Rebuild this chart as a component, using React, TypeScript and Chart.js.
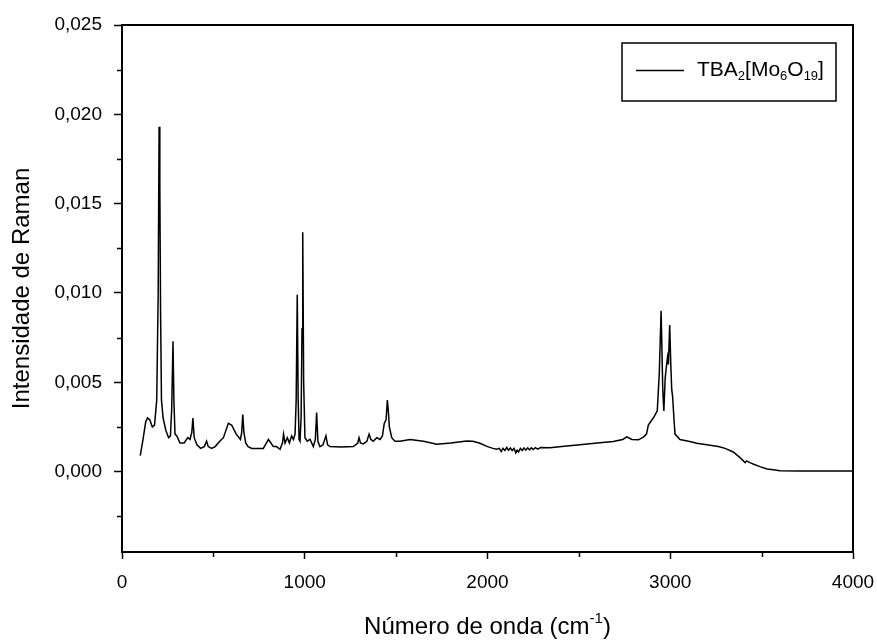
import React, { useEffect, useRef } from "react";
import { Chart, registerables } from "chart.js";

Chart.register(...registerables);

const wavenumbers = [
  100, 115, 130, 140, 152, 166, 178, 190, 198, 203, 207, 211, 216, 225, 240, 255, 265, 272, 279, 284,
  290, 300, 317, 340, 360, 372, 382, 388, 395, 410, 430, 450, 463, 472, 490, 510, 535, 555, 582, 600,
  625, 648, 655, 661, 667, 677, 690, 710, 773, 790, 801, 815, 828, 845, 865, 878, 884, 892, 905, 916,
  928, 938, 947, 953, 959, 964, 969, 974, 980, 985, 989, 994, 1001, 1014, 1029, 1047, 1058, 1065, 1072, 1083,
  1100, 1116, 1125, 1138, 1200, 1266, 1290, 1297, 1305, 1320, 1340, 1352, 1362, 1375, 1394, 1412, 1425, 1435, 1445, 1452,
  1458, 1463, 1476, 1494, 1521, 1576, 1650, 1722, 1800, 1886, 1920, 1959, 2000, 2030, 2050, 2065, 2075, 2085, 2095, 2105,
  2115, 2125, 2135, 2145, 2155, 2162, 2170, 2180, 2190, 2200, 2210, 2220, 2230, 2240, 2250, 2262, 2275, 2290, 2342, 2420,
  2506, 2600, 2688, 2740, 2762, 2790, 2826, 2853, 2870, 2880, 2907, 2929, 2940, 2950, 2959, 2965, 2972, 2977, 2985, 2990,
  2997, 3003, 3008, 3013, 3020, 3026, 3053, 3100, 3145, 3200, 3263, 3300, 3345, 3380, 3400, 3410, 3418, 3427, 3436, 3460,
  3491, 3530, 3564, 3600, 3700, 3800, 3900, 4000,
];

const intensities = [
  0.0009, 0.0018, 0.0028, 0.003, 0.0029, 0.0025, 0.0026, 0.004, 0.01, 0.0193, 0.016, 0.009, 0.004, 0.003, 0.0023, 0.0019, 0.002, 0.0035, 0.0073, 0.004,
  0.0021, 0.002, 0.0016, 0.0016, 0.0019, 0.0018, 0.0022, 0.003, 0.0019, 0.0015, 0.0013, 0.0014, 0.0017, 0.0014, 0.0013, 0.0014, 0.0017, 0.0019, 0.0027, 0.0026,
  0.0021, 0.0018, 0.0022, 0.0032, 0.0022, 0.0016, 0.0014, 0.0013, 0.0013, 0.0016, 0.0018, 0.0016, 0.0014, 0.0014, 0.00125, 0.0016, 0.0021, 0.0016, 0.0019, 0.0016,
  0.002, 0.0018, 0.0021, 0.004, 0.0099, 0.004, 0.0018, 0.0017, 0.003, 0.008, 0.0134, 0.005, 0.0019, 0.0017, 0.0018, 0.0014, 0.0018, 0.0033, 0.0017, 0.0014,
  0.0015, 0.002, 0.0015, 0.0014, 0.00138, 0.0014, 0.0016, 0.0019, 0.0016, 0.00155, 0.0017, 0.0021, 0.0018, 0.0017, 0.0019, 0.0018, 0.002, 0.0027, 0.0029, 0.004,
  0.0033, 0.0025, 0.0019, 0.0017, 0.0017, 0.0018, 0.0017, 0.00153, 0.0016, 0.00172, 0.0017, 0.00159, 0.0014, 0.0013, 0.00125, 0.0013, 0.00112, 0.0013, 0.00118, 0.00135,
  0.0012, 0.00132, 0.00118, 0.0013, 0.00105, 0.0012, 0.0011, 0.0013, 0.00118, 0.00132, 0.0012, 0.00133, 0.00122, 0.00133, 0.00124, 0.00134, 0.00126, 0.00135, 0.00134, 0.00142,
  0.0015, 0.0016, 0.00168, 0.0018, 0.00195, 0.0018, 0.00178, 0.00193, 0.0021, 0.0026, 0.003, 0.0034, 0.0055, 0.009, 0.0046, 0.0034, 0.0052, 0.0057, 0.0064, 0.006,
  0.0082, 0.006, 0.0046, 0.0042, 0.003, 0.0021, 0.0018, 0.0017, 0.00159, 0.0015, 0.0014, 0.0013, 0.0011, 0.0008, 0.0006, 0.0005, 0.0006, 0.00055, 0.0005, 0.0004,
  0.00028, 0.00015, 0.0001, 0.00005, 0.00004, 0.00004, 0.00004, 0.00004,
];

const seriesLabel = "TBA2[Mo6O19]";
const xMajorTicks = [0, 1000, 2000, 3000, 4000];
const xMinorTicks = [500, 1500, 2500, 3500];
const yMajorTicks = [0, 0.005, 0.01, 0.015, 0.02, 0.025];
const yMinorTicks = [-0.0025, 0.0025, 0.0075, 0.0125, 0.0175, 0.0225];
const xRange = [0, 4000];
const yRange = [-0.0045, 0.025];

const FONT = "'Liberation Sans', Arial, sans-serif";

const decorPlugin = {
  id: "decor",
  afterDraw(chart: any) {
    const ctx = chart.ctx;
    const { left, right, top, bottom } = chart.chartArea;
    const xs = chart.scales.x;
    const ys = chart.scales.y;
    ctx.save();
    ctx.strokeStyle = "#000";
    ctx.lineWidth = 2;
    ctx.beginPath();
    ctx.moveTo(left - 1, top);
    ctx.lineTo(right, top);
    ctx.lineTo(right, bottom + 1);
    ctx.stroke();
    ctx.lineWidth = 1.5;
    ctx.beginPath();
    for (const v of yMinorTicks) {
      const p = Math.round(ys.getPixelForValue(v)) + 0.5;
      ctx.moveTo(left - 5, p);
      ctx.lineTo(left, p);
    }
    for (const v of xMinorTicks) {
      const p = Math.round(xs.getPixelForValue(v)) + 0.5;
      ctx.moveTo(p, bottom);
      ctx.lineTo(p, bottom + 5);
    }
    ctx.stroke();

    ctx.fillStyle = "#000";
    ctx.textBaseline = "alphabetic";
    ctx.textAlign = "left";
    const main = "Número de onda (cm";
    const sup = "-1";
    const close = ")";
    ctx.font = `24px ${FONT}`;
    const w1 = ctx.measureText(main).width;
    const w3 = ctx.measureText(close).width;
    ctx.font = `15px ${FONT}`;
    const w2 = ctx.measureText(sup).width;
    const total = w1 + w2 + w3;
    const x0 = (left + right) / 2 - total / 2;
    const base = 634;
    ctx.font = `24px ${FONT}`;
    ctx.fillText(main, x0, base);
    ctx.font = `15px ${FONT}`;
    ctx.fillText(sup, x0 + w1, base - 11);
    ctx.font = `24px ${FONT}`;
    ctx.fillText(close, x0 + w1 + w2, base);

    ctx.lineWidth = 1.5;
    ctx.strokeRect(622, 43, 214, 58);
    ctx.beginPath();
    ctx.moveTo(636, 70.5);
    ctx.lineTo(684, 70.5);
    ctx.stroke();
    const parts: [string, boolean][] = [
      ["TBA", false], ["2", true], ["[Mo", false], ["6", true], ["O", false], ["19", true], ["]", false],
    ];
    let lx = 697;
    const lb = 76;
    for (const [t, sub] of parts) {
      ctx.font = sub ? `13px ${FONT}` : `21px ${FONT}`;
      ctx.fillText(t, lx, sub ? lb + 4 : lb);
      lx += ctx.measureText(t).width;
    }
    ctx.restore();
  },
};

export default function App() {
  const ref = useRef<HTMLCanvasElement | null>(null);
  useEffect(() => {
    if (!ref.current) return;
    const points = wavenumbers.map((w, i) => ({ x: w, y: intensities[i] }));
    const chart = new Chart(ref.current, {
      type: "line",
      data: {
        datasets: [
          {
            label: seriesLabel,
            data: points,
            borderColor: "#000",
            borderWidth: 1.5,
            pointRadius: 0,
            tension: 0,
            fill: false,
          },
        ],
      },
      options: {
        animation: false,
        responsive: false,
        devicePixelRatio: 1,
        layout: { padding: { left: 0, top: 25, right: 24, bottom: 0 } },
        plugins: { legend: { display: false }, tooltip: { enabled: false } },
        scales: {
          x: {
            type: "linear",
            min: xRange[0],
            max: xRange[1],
            afterFit: (s: any) => {
              s.height = 88;
              s.paddingLeft = 0;
              s.paddingRight = 0;
            },
            afterBuildTicks: (s: any) => {
              s.ticks = xMajorTicks.map((v) => ({ value: v }));
            },
            grid: { drawOnChartArea: false, drawTicks: true, tickLength: 7, tickColor: "#000", tickWidth: 1.5 },
            border: { display: true, color: "#000", width: 2 },
            ticks: {
              autoSkip: false,
              maxRotation: 0,
              padding: 12,
              color: "#000",
              font: { family: FONT, size: 19 },
              callback: (v: any) => String(v),
            },
          },
          y: {
            type: "linear",
            min: yRange[0],
            max: yRange[1],
            afterFit: (s: any) => {
              s.width = 122;
              s.paddingTop = 0;
              s.paddingBottom = 0;
            },
            afterBuildTicks: (s: any) => {
              s.ticks = yMajorTicks.map((v) => ({ value: v }));
            },
            grid: { drawOnChartArea: false, drawTicks: true, tickLength: 8, tickColor: "#000", tickWidth: 1.5 },
            border: { display: true, color: "#000", width: 2 },
            title: {
              display: true,
              text: "Intensidade de Raman",
              color: "#000",
              font: { family: FONT, size: 24, lineHeight: 1.2 },
              padding: { top: 8, bottom: 0 },
            },
            ticks: {
              padding: 12,
              color: "#000",
              font: { family: FONT, size: 19 },
              callback: (v: any) => Number(v).toFixed(3).replace(".", ","),
            },
          },
        },
      },
      plugins: [decorPlugin],
    });
    return () => chart.destroy();
  }, []);
  return (
    <div style={{ position: "absolute", left: 0, top: 0, width: 877, height: 640, background: "#fff" }}>
      <canvas ref={ref} width={877} height={640} />
    </div>
  );
}
